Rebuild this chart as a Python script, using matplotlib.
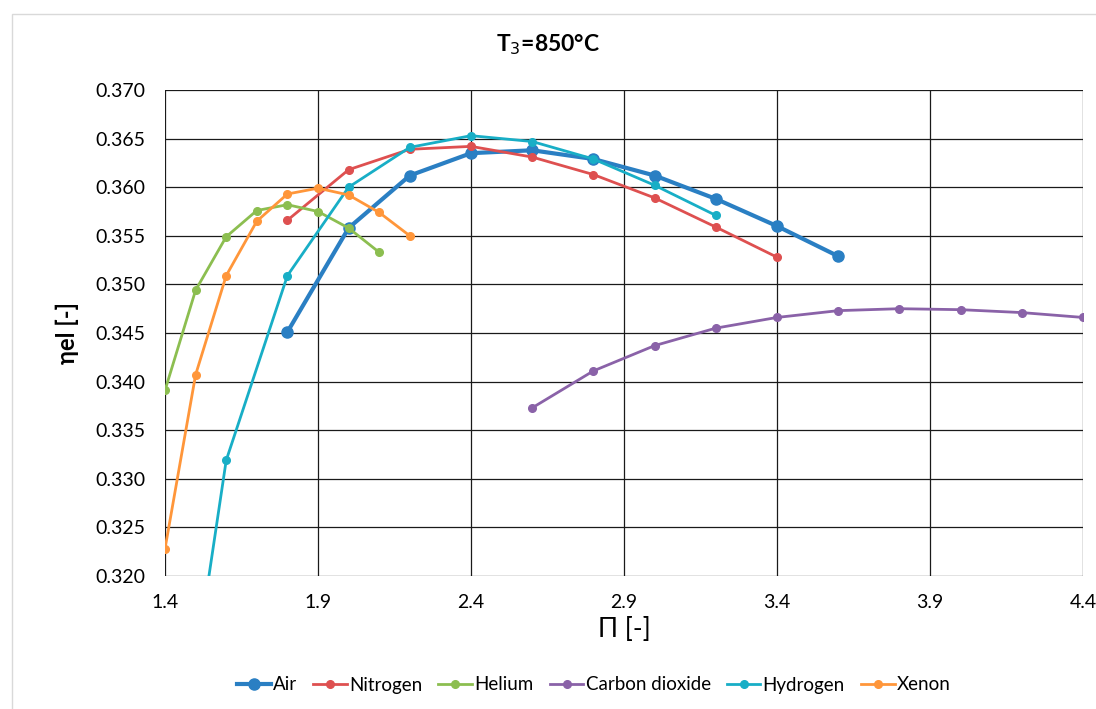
import matplotlib
matplotlib.use("Agg")
import matplotlib.pyplot as plt
from matplotlib.patches import Rectangle
from matplotlib.ticker import FormatStrFormatter

plt.rcParams['font.family'] = ['Lato', 'DejaVu Sans']

x_air = [1.8, 2.0, 2.2, 2.4, 2.6, 2.8, 3.0, 3.2, 3.4, 3.6]
y_air = [0.3451, 0.3558, 0.3612, 0.3635, 0.3638, 0.3629, 0.3612, 0.3588, 0.3560, 0.3529]

x_n2 = [1.8, 2.0, 2.2, 2.4, 2.6, 2.8, 3.0, 3.2, 3.4]
y_n2 = [0.3566, 0.3618, 0.3639, 0.3642, 0.3631, 0.3613, 0.3589, 0.3559, 0.3528]

x_he = [1.4, 1.5, 1.6, 1.7, 1.8, 1.9, 2.0, 2.1]
y_he = [0.3391, 0.3494, 0.3549, 0.3576, 0.3582, 0.3575, 0.3558, 0.3533]

x_co2 = [2.6, 2.8, 3.0, 3.2, 3.4, 3.6, 3.8, 4.0, 4.2, 4.4]
y_co2 = [0.3373, 0.3411, 0.3437, 0.3455, 0.3466, 0.3473, 0.3475, 0.3474, 0.3471, 0.3466]

x_h2 = [1.5, 1.6, 1.8, 2.0, 2.2, 2.4, 2.6, 2.8, 3.0, 3.2]
y_h2 = [0.3108, 0.3319, 0.3509, 0.3600, 0.3641, 0.3653, 0.3647, 0.3629, 0.3602, 0.3571]

x_xe = [1.4, 1.5, 1.6, 1.7, 1.8, 1.9, 2.0, 2.1, 2.2]
y_xe = [0.3228, 0.3407, 0.3509, 0.3565, 0.3593, 0.3599, 0.3592, 0.3574, 0.3550]

x_ticks = [1.4, 1.9, 2.4, 2.9, 3.4, 3.9, 4.4]
y_ticks = [0.320, 0.325, 0.330, 0.335, 0.340, 0.345, 0.350, 0.355, 0.360, 0.365, 0.370]

series = [
    ("Air", x_air, y_air, "#2A7FC3", 3.0, 8),
    ("Nitrogen", x_n2, y_n2, "#DE5050", 2.0, 5.5),
    ("Helium", x_he, y_he, "#8CBE50", 2.0, 5.5),
    ("Carbon dioxide", x_co2, y_co2, "#8A62A8", 2.0, 5.5),
    ("Hydrogen", x_h2, y_h2, "#18AEC6", 2.0, 5.5),
    ("Xenon", x_xe, y_xe, "#FF963A", 2.0, 5.5),
]

W, H = 1096, 709
fig = plt.figure(figsize=(W / 100, H / 100), dpi=100)
ax = fig.add_axes([165 / W, 1 - 576 / H, (1083 - 165) / W, (576 - 90) / H])

for name, xs, ys, c, lw, ms in series:
    ax.plot(xs, ys, color=c, lw=lw, marker='o', ms=ms, label=name, zorder=3)

ax.set_xlim(1.4, 4.4)
ax.set_ylim(0.320, 0.370)
ax.set_xticks(x_ticks)
ax.set_yticks(y_ticks)
ax.yaxis.set_major_formatter(FormatStrFormatter('%.3f'))
ax.xaxis.set_major_formatter(FormatStrFormatter('%.1f'))
ax.grid(True, color='#1a1a1a', lw=0.9, zorder=0)
for s in ax.spines.values():
    s.set_visible(False)
ax.tick_params(length=0, labelsize=14, colors='#000000')
ax.tick_params(axis='y', pad=14)
ax.tick_params(axis='x', pad=13)

fig.text(0.5, 1 - 45 / H, "T$_3$=850°C", fontsize=16.5, fontweight='bold', ha='center', va='center')
ax.set_xlabel("Π [-]", fontsize=19, labelpad=4)
ax.set_ylabel("ηel [-]", fontsize=17, fontweight='bold', labelpad=12)

fig.legend(loc='center', bbox_to_anchor=(594 / W, 1 - 685 / H), ncol=6, frameon=False,
           fontsize=13.5, handlelength=1.8, columnspacing=0.85, handletextpad=0.12)

fig.patches.append(Rectangle((12 / W, -0.01), 1.1, 1 - 14 / H + 0.01, transform=fig.transFigure,
                             fill=False, edgecolor='#D9D9D9', lw=1))

fig.savefig("out.png", dpi=100)
